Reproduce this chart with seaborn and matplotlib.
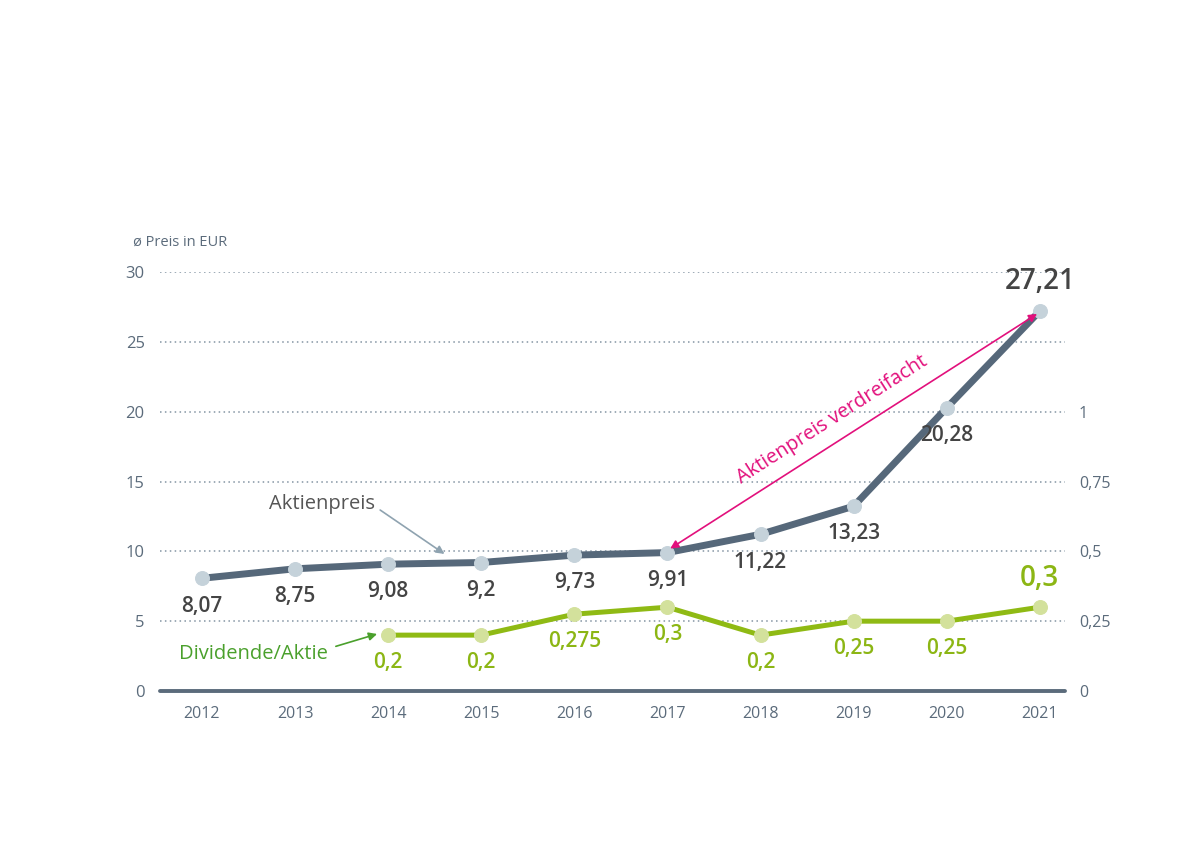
import numpy as np
import pandas as pd
import matplotlib
matplotlib.use("Agg")
import matplotlib.pyplot as plt
import seaborn as sns

years = [2012, 2013, 2014, 2015, 2016, 2017, 2018, 2019, 2020, 2021]
price = [8.07, 8.75, 9.08, 9.2, 9.73, 9.91, 11.22, 13.23, 20.28, 27.21]
dividend = [np.nan, np.nan, 0.2, 0.2, 0.275, 0.3, 0.2, 0.25, 0.25, 0.3]
left_ticks = [0, 5, 10, 15, 20, 25, 30]
right_ticks = [0, 0.25, 0.5, 0.75, 1]

sns.set_theme(style="white")
plt.rcParams['font.family'] = ['Open Sans', 'DejaVu Sans']

AX_COL = "#5b6b7b"
PRICE_LINE = "#56687a"
PRICE_MK = "#c5d2da"
DIV_LINE = "#8fba14"
DIV_MK = "#d3e19c"
DIV_TXT = "#8cb614"
LBL_COL = "#444444"
MAG = "#e2107c"

def fmt(v):
    return f"{v:g}".replace(".", ",")

fig = plt.figure(figsize=(12, 8.48), dpi=100)
ax = fig.add_axes([160/1200, 1-691/848, (1065-160)/1200, (691-272)/848])
ax2 = ax.twinx()

df = pd.DataFrame({"year": years, "price": price, "dividend": dividend})

ax.set_ylim(0, 30)
ax2.set_ylim(0, 1.5)
ax.set_xlim(2011.55, 2021.27)

# grid
for t in left_ticks[1:]:
    ax.axhline(t, color="#8494a3", lw=1.1, ls=(0, (1, 2.2)), zorder=0)

sns.lineplot(data=df, x="year", y="price", ax=ax, color=PRICE_LINE, lw=5,
             marker="o", markersize=10, markerfacecolor=PRICE_MK,
             markeredgecolor=PRICE_MK, zorder=3)
sns.lineplot(data=df.dropna(), x="year", y="dividend", ax=ax2, color=DIV_LINE, lw=3.6,
             marker="o", markersize=10, markerfacecolor=DIV_MK,
             markeredgecolor=DIV_MK, zorder=3)
ax2.set_xlim(2011.55, 2021.27)

# axes styling
for a in (ax, ax2):
    for s in a.spines.values():
        s.set_visible(False)
    a.set_xlabel("")
    a.set_ylabel("")
    a.grid(False)
ax.axhline(0, color=AX_COL, lw=2.8, zorder=4, clip_on=False)

ax.set_xticks(years)
ax.set_xticklabels([str(y) for y in years], color=AX_COL, fontsize=11.5)
ax.set_yticks(left_ticks)
ax.set_yticklabels([str(t) for t in left_ticks], color=AX_COL, fontsize=12)
ax2.set_yticks(right_ticks)
ax2.set_yticklabels([fmt(t) for t in right_ticks], color=AX_COL, fontsize=11.5)
ax.tick_params(axis="x", length=0, pad=11)
ax.tick_params(axis="y", length=0, pad=11)
ax2.tick_params(axis="y", length=0, pad=10)

ax.text(-27/905, (691-242)/419, "ø Preis in EUR", transform=ax.transAxes, color=AX_COL,
        fontsize=10.5, ha="left", va="center")

# data labels price
for i, (y, v) in enumerate(zip(years, price)):
    last = i == len(years) - 1
    ax.annotate(fmt(v), (y, v), xytext=(0, 21 if last else -20),
                textcoords="offset points", ha="center", va="center",
                fontsize=20 if last else 15, fontweight="semibold",
                color=LBL_COL, zorder=5)
# dividend labels
for i, (y, v) in enumerate(zip(years, dividend)):
    if np.isnan(v):
        continue
    last = i == len(years) - 1
    ax2.annotate(fmt(v), (y, v), xytext=(0, 21 if last else -20),
                 textcoords="offset points", ha="center", va="center",
                 fontsize=20 if last else 15, fontweight="semibold",
                 color=DIV_TXT, zorder=5)

# series annotations
ax.annotate("", xy=(2014.63, 9.7), xytext=(2013.89, 13.07),
            arrowprops=dict(arrowstyle="-|>", color="#8fa3b0", lw=1.2,
                            mutation_scale=12))
ax.text(2013.29, 13.4, "Aktienpreis", color="#555555", fontsize=14.5,
        ha="center", va="center")
ax.annotate("", xy=(2013.91, 4.14), xytext=(2013.41, 3.14),
            arrowprops=dict(arrowstyle="-|>", color="#4aa02c", lw=1.2,
                            mutation_scale=12))
ax.text(2012.55, 2.64, "Dividende/Aktie", color="#4aa02c", fontsize=14.5,
        ha="center", va="center")

# magenta arrow
ax.annotate("", xy=(2017.03, 10.2), xytext=(2020.97, 27.0),
            arrowprops=dict(arrowstyle="<|-|>", color=MAG, lw=1.2,
                            mutation_scale=12, shrinkA=0, shrinkB=0))
ax.text(2018.77, 19.4, "Aktienpreis verdreifacht", color=MAG, fontsize=14.3,
        rotation=32.6, rotation_mode="anchor", ha="center", va="center")

fig.savefig("out.png", dpi=100, facecolor="white")
